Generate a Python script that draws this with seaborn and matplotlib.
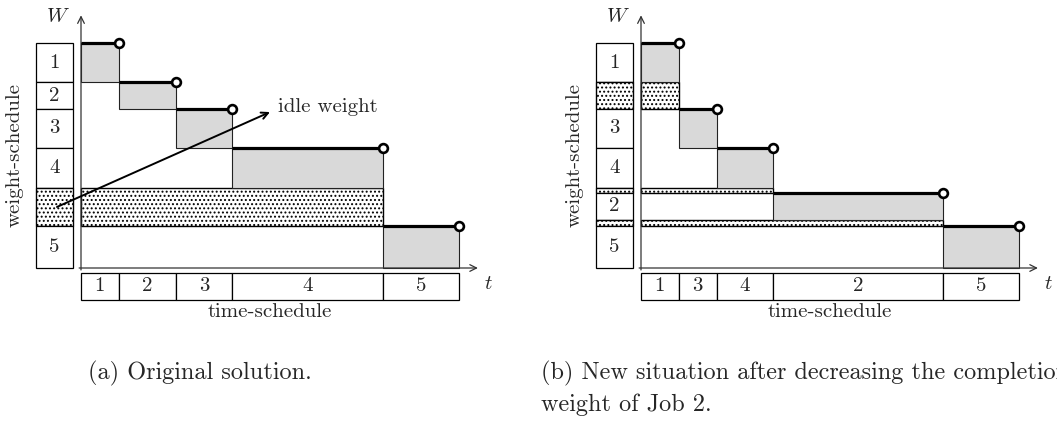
import matplotlib
matplotlib.use("Agg")
import matplotlib.pyplot as plt
import seaborn as sns
import numpy as np
from matplotlib.patches import Rectangle

# panel (a): weight-schedule from top to bottom, time-schedule left to right
a_stack = ['1', '2', '3', '4', 'idle', '5']
a_stack_w = [3, 2, 3, 3, 2.9, 3.2]
a_order = ['1', '2', '3', '4', '5']
a_proc = [1, 1.5, 1.5, 4, 2]

# panel (b): after decreasing the weight of job 2
b_stack = ['1', 'idle', '3', '4', 'idle', '2', 'idle', '5']
b_stack_w = [3, 2, 3, 3, 0.4, 2.05, 0.45, 3.2]
b_order = ['1', '3', '4', '2', '5']
b_proc = [1, 1, 1.5, 4.5, 2]

cap_a = "(a) Original solution."
cap_b = ["(b) New situation after decreasing the completion", "weight of Job 2."]

sns.set_theme(style="white")
plt.rcParams['font.family'] = ['cmr10', 'DejaVu Serif']
plt.rcParams['mathtext.fontset'] = 'cm'
plt.rcParams['axes.unicode_minus'] = False
plt.rcParams['hatch.linewidth'] = 0.9

FS = 15
GREY = '#d9d9d9'
DOTS = '....'


def draw_panel(ax, stack, stack_w, order, proc, arrow=False):
    total = sum(stack_w)
    tops = total - np.cumsum([0] + stack_w[:-1])
    bots = tops - np.array(stack_w)
    starts = np.cumsum([0] + proc[:-1])
    ends = starts + np.array(proc)
    end_of = dict(zip(order, ends))
    row_of = {}

    # weight-schedule column on the left
    for i, (lab, top, bot) in enumerate(zip(stack, tops, bots)):
        if lab == 'idle':
            ax.add_patch(Rectangle((-1.19, bot), 0.98, top - bot, facecolor='white',
                                   edgecolor='black', hatch=DOTS, lw=1.0, zorder=2))
            # idle weight stays until every job above it is done
            above = [l for l in stack[:i] if l != 'idle']
            xend = max(end_of[l] for l in above)
            ax.add_patch(Rectangle((0, bot), xend, top - bot, facecolor='white',
                                   edgecolor='black', hatch=DOTS, lw=1.0, zorder=2))
        else:
            row_of[lab] = (top, bot)
            ax.add_patch(Rectangle((-1.19, bot), 0.98, top - bot, facecolor='white',
                                   edgecolor='black', lw=0.9, zorder=2))
            ax.text(-0.7, (top + bot) / 2, lab, ha='center', va='center', fontsize=FS)

    # grey job boxes + step line
    pts_x, pts_y = [], []
    for job, s, e in zip(order, starts, ends):
        top, bot = row_of[job]
        ax.add_patch(Rectangle((s, bot), e - s, top - bot, facecolor=GREY,
                               edgecolor='#222222', lw=0.8, zorder=3))
        ax.hlines(top, s, e, color='black', lw=2.3, zorder=4)
        pts_x.append(e)
        pts_y.append(top)
    sns.scatterplot(x=pts_x, y=pts_y, ax=ax, s=40, color='white', edgecolor='black',
                    linewidth=1.9, zorder=5, legend=False)

    # time-schedule row
    for job, s, e in zip(order, starts, ends):
        ax.add_patch(Rectangle((s, -2.43), e - s, 2.05, facecolor='white',
                               edgecolor='black', lw=0.9, zorder=2))
        ax.text((s + e) / 2, -1.38, job, ha='center', va='center', fontsize=FS)

    # axes arrows
    ax.annotate('', xy=(0, 19.2), xytext=(0, -0.15),
                arrowprops=dict(arrowstyle='->', lw=0.9, color='#333333', shrinkA=0, shrinkB=0))
    ax.annotate('', xy=(10.5, 0), xytext=(-0.05, 0),
                arrowprops=dict(arrowstyle='->', lw=0.9, color='#333333', shrinkA=0, shrinkB=0))
    ax.text(-0.61, 19.07, '$W$', ha='center', va='center', fontsize=FS)
    ax.text(10.77, -1.22, '$t$', ha='center', va='center', fontsize=FS)
    ax.text(-1.75, 8.59, 'weight-schedule', rotation=90, ha='center', va='center', fontsize=FS)
    ax.text(5.0, -3.34, 'time-schedule', ha='center', va='center', fontsize=FS)

    if arrow:
        ax.annotate('', xy=(5.0, 11.85), xytext=(-0.635, 4.64),
                    arrowprops=dict(arrowstyle='->', lw=1.4, color='black', shrinkA=0, shrinkB=0),
                    zorder=6)
        ax.text(5.21, 12.23, 'idle weight', ha='left', va='center', fontsize=FS)

    ax.set_xlim(-81 / 37.8, 416 / 37.8)
    ax.set_ylim((268 - 330) / 13.16, 268 / 13.16)
    ax.set_axis_off()


fig = plt.figure(figsize=(10.57, 4.23), dpi=100)
W, H = 1057, 423
ax_a = fig.add_axes([0, (H - 330) / H, 497 / W, 330 / H])
ax_b = fig.add_axes([560 / W, (H - 330) / H, 497 / W, 330 / H])
ax_a.patch.set_alpha(0)
ax_b.patch.set_alpha(0)

draw_panel(ax_a, a_stack, a_stack_w, a_order, a_proc, arrow=True)
draw_panel(ax_b, b_stack, b_stack_w, b_order, b_proc)

fig.text(88 / W, 1 - 373 / H, cap_a, ha='left', va='center', fontsize=17.5)
fig.text(541 / W, 1 - 373 / H, cap_b[0], ha='left', va='center', fontsize=17.5)
fig.text(541 / W, 1 - 405 / H, cap_b[1], ha='left', va='center', fontsize=17.5)

fig.savefig("out.png", dpi=100)
plt.close(fig)
